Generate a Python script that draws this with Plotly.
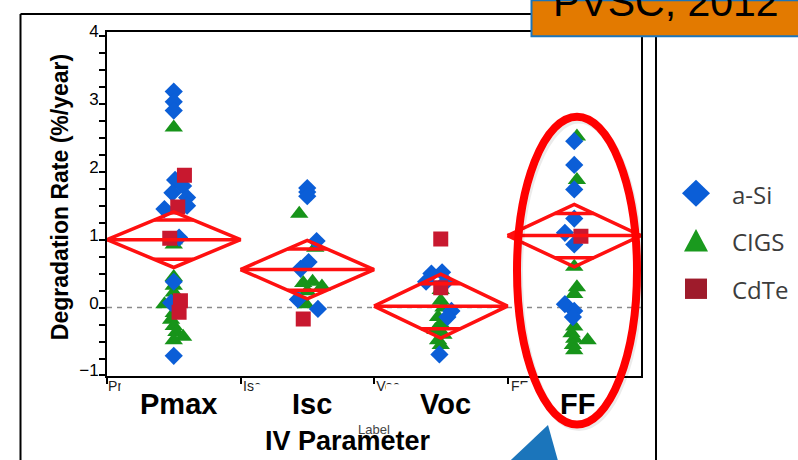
import plotly.graph_objects as go

# ---------------- data ----------------
categories = ["Pmax", "Isc", "Voc", "FF"]
y_tick_values = [-1, 0, 1, 2, 3, 4]

# a-Si (blue diamonds): values and small horizontal jitter (category units)
asi_values = {
    "Pmax": [3.18, 3.03, 2.90, 1.88, 1.79, 1.69, 1.62, 1.50, 1.45, 1.03, 0.38, 0.07, -0.71],
    "Isc":  [1.76, 1.70, 1.64, 0.98, 0.67, 0.57, 0.12, -0.02],
    "Voc":  [0.52, 0.50, 0.38, 0.38, -0.05, -0.14, -0.69],
    "FF":   [2.45, 2.10, 1.74, 1.31, 1.10, 0.93, 0.05, -0.05, -0.14],
}
asi_jitter = {
    "Pmax": [0, 0, 0, 0.01, 0.07, -0.01, 0.10, 0.10, -0.07, 0.04, 0, -0.02, 0],
    "Isc":  [0, 0, 0, 0.07, 0.01, -0.05, -0.07, 0.08],
    "Voc":  [0.01, -0.07, -0.11, 0.04, 0.08, 0.05, -0.01],
    "FF":   [0, 0, 0, 0, -0.07, 0, -0.07, 0, -0.01],
}

# CIGS (green triangles)
cigs_values = {
    "Pmax": [2.65, 0.99, 0.93, 0.45, 0.32, 0.22, 0.05, -0.08, -0.18, -0.27, -0.36, -0.43, -0.48],
    "Isc":  [1.38, 0.88, 0.38, 0.36, 0.31, 0.24, 0.05],
    "Voc":  [0.26, 0.10, 0.00, -0.14, -0.24, -0.33, -0.40, -0.48, -0.55],
    "FF":   [2.52, 1.88, 0.60, 0.30, 0.20, -0.28, -0.38, -0.46, -0.48, -0.55, -0.63],
}
cigs_jitter = {
    "Pmax": [0, 0, 0, 0, 0, 0, -0.07, 0, -0.02, 0, 0.02, 0.07, 0],
    "Isc":  [-0.06, 0.06, 0.04, -0.03, 0.11, 0, -0.01],
    "Voc":  [0, 0, 0.02, -0.02, 0, -0.04, 0.02, -0.02, 0],
    "FF":   [0.02, 0.02, 0, 0.02, 0, 0, -0.02, 0, 0.10, -0.01, 0],
}

# CdTe (red squares)
cdte_values = {
    "Pmax": [1.95, 1.48, 1.02, 0.10, -0.07],
    "Isc":  [-0.17],
    "Voc":  [1.01, 0.29],
    "FF":   [1.05],
}
cdte_jitter = {
    "Pmax": [0.08, 0.03, -0.03, 0.05, 0.04],
    "Isc":  [-0.03],
    "Voc":  [0, 0],
    "FF":   [0.05],
}

# means diamonds (mean and 95% CI half-width)
group_means = [1.00, 0.56, 0.02, 1.06]
group_ci95 = [0.41, 0.43, 0.47, 0.46]

series_names = ["a-Si", "CIGS", "CdTe"]

# ---------------- helpers (pixel -> paper) ----------------
W, H = 798, 460
X0, X1 = 107, 641          # plot area left/right in px
def xp(px):
    return px / W
def yp(py):
    return 1 - py / H
def px_to_data(px):
    return (px - X0) / (X1 - X0) * 4 - 0.5

def flatten(values, jitter):
    xs, ys = [], []
    for i, c in enumerate(categories):
        for v, j in zip(values[c], jitter[c]):
            xs.append(i + j)
            ys.append(v)
    return xs, ys

BLUE = "#0B5ED7"
GREEN = "#17941A"
RED = "#C8182F"
FONT = "Arial, Liberation Sans, sans-serif"

fig = go.Figure()

gx, gy = flatten(cigs_values, cigs_jitter)
fig.add_trace(go.Scatter(x=gx, y=gy, mode="markers", name="CIGS", showlegend=False,
                         marker=dict(symbol="triangle-up", size=16, color=GREEN, line=dict(width=0))))
bx, by = flatten(asi_values, asi_jitter)
fig.add_trace(go.Scatter(x=bx, y=by, mode="markers", name="a-Si", showlegend=False,
                         marker=dict(symbol="diamond", size=14, color=BLUE, line=dict(width=0))))
rx, ry = flatten(cdte_values, cdte_jitter)
fig.add_trace(go.Scatter(x=rx, y=ry, mode="markers", name="CdTe", showlegend=False,
                         marker=dict(symbol="square", size=15, color=RED, line=dict(width=0))))

# means diamonds
k = 2 ** 0.5 / 2
dx, dy = [], []
for i, (m, c) in enumerate(zip(group_means, group_ci95)):
    dx += [i - 0.5, i, i + 0.5, i, i - 0.5, None]
    dy += [m, m + c, m, m - c, m, None]
    dx += [i - 0.5, i + 0.5, None]
    dy += [m, m, None]
    hw = 0.5 * (1 - k)
    for s in (1, -1):
        dx += [i - hw, i + hw, None]
        dy += [m + s * c * k, m + s * c * k, None]
fig.add_trace(go.Scatter(x=dx, y=dy, mode="lines", showlegend=False, hoverinfo="skip",
                         line=dict(color="#FF1010", width=3.5)))

# invisible trace on the secondary x axis (carries the small, partly hidden slot labels)
fig.add_trace(go.Scatter(x=[None], y=[None], xaxis="x2", yaxis="y", showlegend=False, hoverinfo="skip"))

shapes = []
# dashed zero line
shapes.append(dict(type="line", xref="x", yref="y", x0=-0.5, x1=3.5, y0=0, y1=0,
                   line=dict(color="#8a8a8a", width=1.5, dash="5px,5px"), layer="below"))
# outer frame lines of the slide picture
for (x0, y0, x1, y1) in [(20.5, 4, 20.5, 470), (20.5, 4, 532, 4), (656, 27, 656, 470)]:
    shapes.append(dict(type="line", xref="paper", yref="paper", x0=xp(x0), y0=yp(y0), x1=xp(x1), y1=yp(y1),
                       line=dict(color="black", width=2)))
# white masks that partly hide the small slot labels and the "Label" title
for (mx0, mx1, my0, my1) in [(121, 160, 383.5, 400), (254, 270, 386, 400), (386, 410, 386, 400),
                             (520, 535, 386, 400), (330, 400, 423.5, 431)]:
    shapes.append(dict(type="rect", xref="paper", yref="paper", x0=xp(mx0), x1=xp(mx1), y0=yp(my1), y1=yp(my0),
                       fillcolor="white", line=dict(width=0)))
# orange title box
shapes.append(dict(type="rect", xref="paper", yref="paper", x0=xp(531.5), x1=xp(810), y0=yp(27), y1=yp(-10),
                   fillcolor="#E37A00", line=dict(color="#1B75BB", width=2)))
# ellipse shadow + red ellipse
shapes.append(dict(type="circle", xref="paper", yref="paper", x0=xp(519), x1=xp(639), y0=yp(430), y1=yp(113),
                   line=dict(color="rgba(0,0,0,0.08)", width=8)))
shapes.append(dict(type="circle", xref="paper", yref="paper", x0=xp(517), x1=xp(637), y0=yp(427.5), y1=yp(110),
                   line=dict(color="#FF0000", width=8)))
# blue arrow tip
shapes.append(dict(type="path", xref="paper", yref="paper",
                   path=f"M {xp(548)},{yp(428)} L {xp(510)},{yp(465)} L {xp(558)},{yp(465)} Z",
                   fillcolor="#1B75BB", line=dict(width=0)))
# legend symbols
lx = 696
shapes.append(dict(type="path", xref="paper", yref="paper",
                   path=f"M {xp(lx-14)},{yp(189)} L {xp(lx)},{yp(175)} L {xp(lx+14)},{yp(189)} L {xp(lx)},{yp(203)} Z",
                   fillcolor=BLUE, line=dict(width=0)))
shapes.append(dict(type="path", xref="paper", yref="paper",
                   path=f"M {xp(lx-12)},{yp(249)} L {xp(lx)},{yp(226)} L {xp(lx+12)},{yp(249)} Z",
                   fillcolor="#1A9A1E", line=dict(width=0)))
shapes.append(dict(type="rect", xref="paper", yref="paper", x0=xp(lx-11), x1=xp(lx+11), y0=yp(298), y1=yp(277),
                   fillcolor="#9E1B2B", line=dict(width=0)))

annotations = []
def ann(x, y, text, size, color="black", family=FONT, xanchor="center", yanchor="middle", **kw):
    annotations.append(dict(xref="paper", yref="paper", x=xp(x), y=yp(y), xanchor=xanchor, yanchor=yanchor,
                            text=text, showarrow=False, font=dict(family=family, size=size, color=color), **kw))

# big category labels
big_centers = [178, 312, 445, 577]
for cx, c in zip(big_centers, categories):
    ann(cx, 406, f"<b>{c}</b>", 29)
# axis titles
ann(347.5, 445, "<b>IV Parameter</b>", 27)
ann(60, 193, "<b>Degradation Rate (%/year)</b>", 23, textangle=-90)
# title box text
ann(551, 18, "PVSC, 2012", 41, xanchor="left", yanchor="bottom")
# legend texts
for name, ty in zip(series_names, [190, 239, 288]):
    ann(730, ty, name, 24, color="#3c3c3c", family="Open Sans, sans-serif", xanchor="left")

# small slot labels sit just right of each slot boundary tick
small_label_px = [126, 252, 388, 519.5]

fig.update_layout(
    width=W, height=H, margin=dict(l=0, r=0, t=0, b=0),
    paper_bgcolor="white", plot_bgcolor="white",
    shapes=shapes, annotations=annotations, showlegend=False,
    xaxis=dict(domain=[xp(X0), xp(X1)], range=[-0.5, 3.5], tickvals=[-0.5, 0.5, 1.5, 2.5],
               showticklabels=False, ticks="outside", ticklen=6, tickwidth=1.5, tickcolor="black",
               showline=True, linecolor="black", linewidth=2, mirror=True, showgrid=False, zeroline=False),
    xaxis2=dict(overlaying="x", anchor="y", side="bottom", range=[-0.5, 3.5],
                tickvals=[px_to_data(p) for p in small_label_px], ticktext=categories,
                ticks="", showline=False, showgrid=False, zeroline=False,
                tickfont=dict(family=FONT, size=14, color="#222"), ticklabelstandoff=0,
                title=dict(text="Label", font=dict(family=FONT, size=13, color="#444"), standoff=31)),
    yaxis=dict(domain=[yp(378), yp(23)], range=[-1.015, 4.053], tickvals=y_tick_values,
               ticks="outside", ticklen=6, tickwidth=1.5, tickcolor="black",
               tickfont=dict(family=FONT, size=17, color="black"),
               ticklabelshift=-5, ticklabelstandoff=-3,
               minor=dict(dtick=0.25, ticks="outside", ticklen=6, tickwidth=1.5, tickcolor="black"),
               showline=True, linecolor="black", linewidth=2, mirror=True, showgrid=False, zeroline=False),
)

fig.write_html("out.html", config={"displayModeBar": False},
               post_script="document.body.style.margin='0';document.body.style.overflow='hidden';")
